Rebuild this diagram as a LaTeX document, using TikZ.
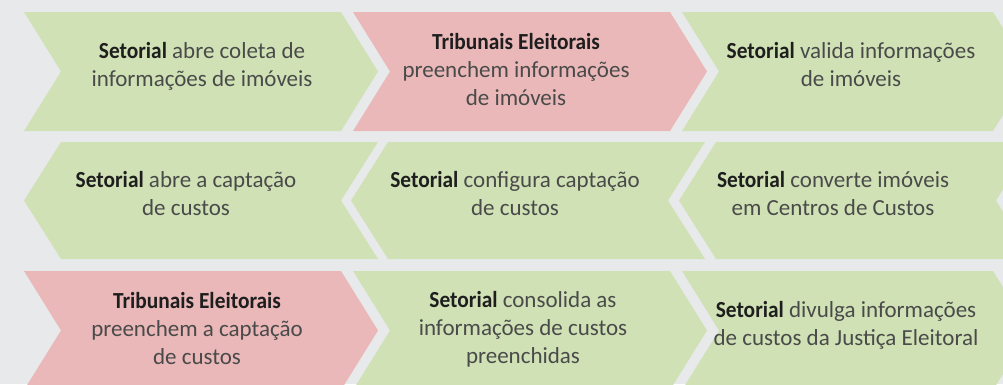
\documentclass[tikz,border=0pt]{standalone}
\usepackage{fontspec}
\setmainfont{Carlito}[BoldFeatures={FakeStretch=0.93}]
\definecolor{bg}{HTML}{E8E9EB}
\definecolor{grn}{HTML}{D0E2B5}
\definecolor{pnk}{HTML}{EAB8B8}
\definecolor{txt}{HTML}{4A4A4A}
\definecolor{bld}{HTML}{1E1E1E}
\newcommand{\actor}[1]{{\bfseries\color{bld}#1}}
\newcommand{\lines}[1]{\begin{tabular}[t]{@{}c@{}}#1\end{tabular}}
\begin{document}
\begin{tikzpicture}[x=1pt,y=-1pt,
  label/.style={anchor=base,inner sep=0pt,text=txt,font=\fontsize{23}{28}\selectfont}]
\useasboundingbox (0,0) rectangle (1003,384);
\fill[bg] (0,0) rectangle (1003,384);
% row 1: right-pointing chevrons
\fill[grn] (24,12) -- (341,12) -- (378,71.5) -- (341,131) -- (24,131) -- (61,71.5) -- cycle;
\fill[pnk] (353,12) -- (670,12) -- (707,71.5) -- (670,131) -- (353,131) -- (390,71.5) -- cycle;
\fill[grn] (682,12) -- (993,12) -- (1030,71.5) -- (993,131) -- (682,131) -- (719,71.5) -- cycle;
% row 2: left-pointing chevrons
\fill[grn] (61,142) -- (378,142) -- (341,200.5) -- (378,259) -- (61,259) -- (24,200.5) -- cycle;
\fill[grn] (388,142) -- (705,142) -- (668,200.5) -- (705,259) -- (388,259) -- (351,200.5) -- cycle;
\fill[grn] (716,142) -- (1033,142) -- (996,200.5) -- (1033,259) -- (716,259) -- (679,200.5) -- cycle;
% row 3: right-pointing chevrons
\fill[pnk] (24,271) -- (341,271) -- (378,330.5) -- (341,390) -- (24,390) -- (61,330.5) -- cycle;
\fill[grn] (353,271) -- (670,271) -- (707,330.5) -- (670,390) -- (353,390) -- (390,330.5) -- cycle;
\fill[grn] (682,271) -- (993,271) -- (1030,330.5) -- (993,390) -- (682,390) -- (719,330.5) -- cycle;
% texts
\node[label] (t11) at (202,58) {\lines{\actor{Setorial} abre coleta de\\informações de imóveis}};
\node[label] (t12) at (516,49) {\lines{\actor{Tribunais Eleitorais}\\preenchem informações\\de imóveis}};
\node[label] (t13) at (851,58) {\lines{\actor{Setorial} valida informações\\de imóveis}};
\node[label] (t21) at (186,187) {\lines{\actor{Setorial} abre a captação\\de custos}};
\node[label] (t22) at (515,187) {\lines{\actor{Setorial} configura captação\\de custos}};
\node[label] (t23) at (833,187) {\lines{\actor{Setorial} converte imóveis\\em Centros de Custos}};
\node[label] (t31) at (197,308) {\lines{\actor{Tribunais Eleitorais}\\preenchem a captação\\de custos}};
\node[label] (t32) at (523,307) {\lines{\actor{Setorial} consolida as\\informações de custos\\preenchidas}};
\node[label] (t33) at (846,317) {\lines{\actor{Setorial} divulga informações\\de custos da Justiça Eleitoral}};
\end{tikzpicture}
\end{document}
